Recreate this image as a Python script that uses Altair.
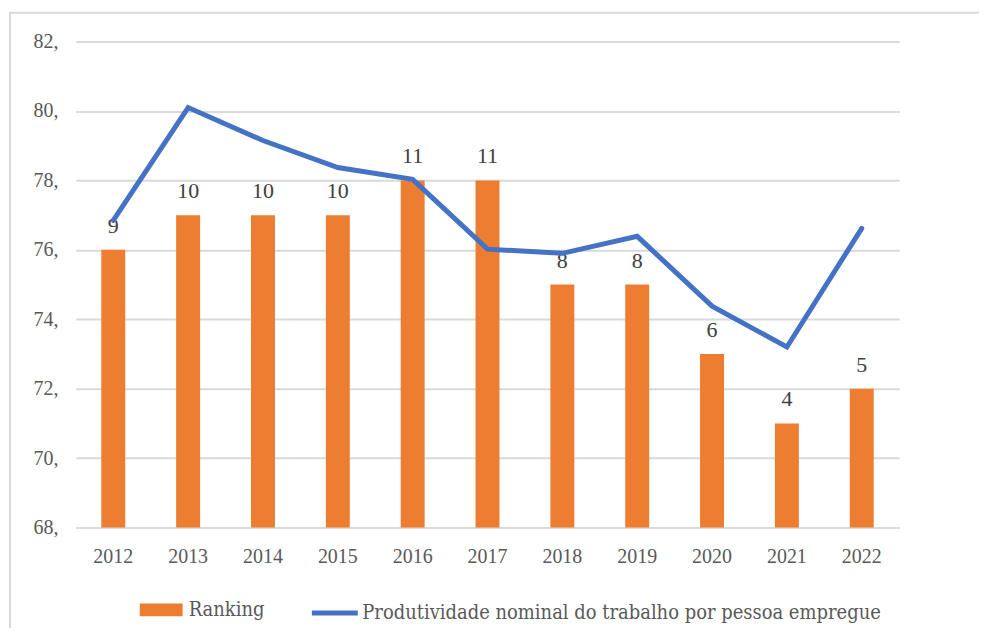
import altair as alt
import pandas as pd

years = ["2012", "2013", "2014", "2015", "2016", "2017", "2018", "2019", "2020", "2021", "2022"]
ranking = [9, 10, 10, 10, 11, 11, 8, 8, 6, 4, 5]
produtividade = [76.85, 80.1, 79.15, 78.37, 78.03, 76.02, 75.9, 76.39, 74.38, 73.2, 76.62]
y_ticks = [68, 70, 72, 74, 76, 78, 80, 82]

bar_name = "Ranking"
line_name = "Produtividade nominal do trabalho por pessoa empregue"

df = pd.DataFrame({
    "ano": years,
    "ranking": ranking,
    "prod": produtividade,
    "serie_bar": bar_name,
    "serie_line": line_name,
})

FONT = "Liberation Serif"
LEG_FONT = "DejaVu Serif Condensed, Liberation Serif"
ORANGE = "#ED7D31"
BLUE = "#4472C4"

x_enc = alt.X(
    "ano:N",
    sort=years,
    title=None,
    scale=alt.Scale(paddingInner=0.68, paddingOuter=0.34),
    axis=alt.Axis(labelAngle=0, labelFont=FONT, labelFontSize=20, labelColor="#595959",
                  labelPadding=19, domain=False, ticks=False, grid=False),
)

base = alt.Chart(df)

bars = base.mark_bar(color=ORANGE).encode(
    x=x_enc,
    y=alt.Y("ranking:Q", scale=alt.Scale(domain=[1, 15], zero=False, nice=False), axis=None),
    y2=alt.datum(1),
    fill=alt.Fill("serie_bar:N", scale=alt.Scale(domain=[bar_name], range=[ORANGE]),
                  legend=alt.Legend(orient="none", legendX=64, legendY=548, title=None,
                                    symbolType="M-1,-0.3H1V0.3H-1Z", symbolSize=1849,
                                    symbolStrokeWidth=0, labelFont=LEG_FONT, labelFontSize=20,
                                    labelColor="#595959", labelOffset=6, labelLimit=800)),
)

labels = base.mark_text(font=FONT, fontSize=22, color="#404040", baseline="bottom", dy=-12).encode(
    x=alt.X("ano:N", sort=years),
    y=alt.Y("ranking:Q", scale=alt.Scale(domain=[1, 15], zero=False, nice=False), axis=None),
    text="ranking:Q",
)

line = base.mark_line(strokeWidth=5, strokeCap="round", strokeJoin="miter").encode(
    x=alt.X("ano:N", sort=years),
    y=alt.Y("prod:Q", scale=alt.Scale(domain=[68, 82], nice=False, zero=False),
            axis=alt.Axis(values=y_ticks, labelExpr="datum.label + ','", title=None,
                          labelFont=FONT, labelFontSize=20, labelColor="#595959",
                          labelPadding=18, domain=False, ticks=False, grid=True,
                          gridColor="#D9D9D9", gridWidth=2)),
    stroke=alt.Stroke("serie_line:N", scale=alt.Scale(domain=[line_name], range=[BLUE]),
                      legend=alt.Legend(orient="none", legendX=234, legendY=547, title=None,
                                        symbolType="stroke", symbolSize=2116, symbolStrokeWidth=5,
                                        labelFont=LEG_FONT, labelFontSize=20, labelColor="#595959",
                                        labelOffset=2, labelLimit=800)),
)

border = alt.Chart(alt.Data(values=[{}])).mark_rect(
    fillOpacity=0, stroke="#D9D9D9", strokeWidth=2
).encode(
    x=alt.value(-66), x2=alt.value(915), y=alt.value(-29), y2=alt.value(640)
)

chart = alt.layer(
    border, alt.layer(bars, labels), line
).resolve_scale(y="independent", fill="independent", stroke="independent").properties(
    width=825, height=487,
    autosize=alt.AutoSizeParams(type="none"),
    padding={"left": 68, "top": 33, "right": 80, "bottom": 100},
).configure_view(stroke=None)

chart.save("out.html", embed_options={"renderer": "svg", "actions": False})
